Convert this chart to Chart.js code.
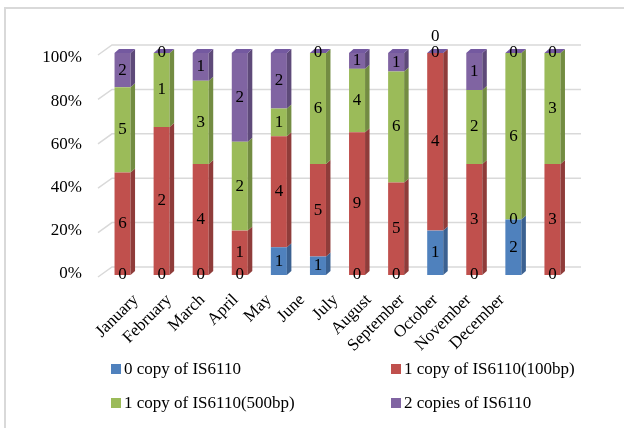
<!DOCTYPE html>
<html>
<head>
<meta charset="utf-8">
<script src="https://cdn.jsdelivr.net/npm/chart.js@4.4.1/dist/chart.umd.min.js"></script>
<style>
  html, body { margin: 0; padding: 0; background: #fff; }
  #wrap { position: relative; width: 624px; height: 428px; overflow: hidden; }
  #frame { position: absolute; left: 4px; top: 7px; width: 700px; height: 600px;
           border-left: 2px solid #d9d9d9; border-top: 2px solid #d9d9d9; }
  canvas { position: absolute; left: 0; top: 0; }
  .lg { position: absolute; height: 20px; display: flex; align-items: center; white-space: nowrap;
        font: 17px "Liberation Serif", "Times New Roman", serif; color: #000; }
  .lg i { display: inline-block; width: 10px; height: 10px; margin-right: 3px; }
</style>
</head>
<body>
<div id="wrap">
  <div id="frame"></div>
  <canvas id="c" width="624" height="428"></canvas>
  <div id="legend"></div>
</div>
<script>
// Monthly counts of isolates by IS6110 copy number
const months = ['January', 'February', 'March', 'April', 'May', 'June',
                'July', 'August', 'September', 'October', 'November', 'December'];
const seriesNames = ['0 copy of IS6110', '1 copy of IS6110(100bp)',
                     '1 copy of IS6110(500bp)', '2 copies of IS6110'];
const zeroCopy   = [0, 0, 0, 0, 1, 1, 0, 0, 1, 0, 2, 0];
const oneCopy100 = [6, 2, 4, 1, 4, 5, 9, 5, 4, 3, 0, 3];
const oneCopy500 = [5, 1, 3, 2, 1, 6, 4, 6, 0, 2, 6, 3];
const twoCopies  = [2, 0, 1, 2, 2, 0, 1, 1, 0, 1, 0, 0];
const percentTicks = [0, 20, 40, 60, 80, 100];

const FONT = '"Liberation Serif", "Times New Roman", serif';
const fronts = ['#4F81BD', '#C0504D', '#9BBB59', '#8064A2'];
const sides  = ['#3B6191', '#8F3C3A', '#738C42', '#5E4A79'];
const topFace = '#7459A0';
const DX = 4.5, DY = 4;

const seriesCounts = [zeroCopy, oneCopy100, oneCopy500, twoCopies];
const totals = months.map((_, i) => seriesCounts.reduce((s, arr) => s + arr[i], 0));
const toPercent = arr => arr.map((v, i) => v / totals[i] * 100);

// back-wall gridlines with a short receding edge on the left
const wallGrid = {
  id: 'wallGrid',
  beforeDatasetsDraw(chart) {
    const { ctx, chartArea: a } = chart;
    const y = chart.scales.y;
    ctx.save();
    ctx.strokeStyle = '#D9D9D9';
    ctx.lineWidth = 1.5;
    percentTicks.forEach(v => {
      const py = y.getPixelForValue(v);
      ctx.beginPath();
      ctx.moveTo(a.left - 5, py + 2);
      ctx.lineTo(a.left + 9, py - 8);
      ctx.lineTo(a.right + 9, py - 8);
      ctx.stroke();
    });
    ctx.restore();
  }
};

// side and top faces for the column look, then the count labels
const columnFaces = {
  id: 'columnFaces',
  afterDatasetsDraw(chart) {
    const ctx = chart.ctx;
    const n = chart.data.datasets.length;
    ctx.save();
    chart.data.datasets.forEach((ds, d) => {
      chart.getDatasetMeta(d).data.forEach(el => {
        const right = el.x + el.width / 2, left = el.x - el.width / 2;
        const top = Math.min(el.y, el.base), bottom = Math.max(el.y, el.base);
        ctx.fillStyle = ds.sideColor;
        ctx.beginPath();
        ctx.moveTo(right, top);
        ctx.lineTo(right + DX, top - DY);
        ctx.lineTo(right + DX, bottom - DY);
        ctx.lineTo(right, bottom);
        ctx.closePath();
        ctx.fill();
        if (d === n - 1) {
          ctx.fillStyle = topFace;
          ctx.beginPath();
          ctx.moveTo(left, top);
          ctx.lineTo(left + DX, top - DY);
          ctx.lineTo(right + DX, top - DY);
          ctx.lineTo(right, top);
          ctx.closePath();
          ctx.fill();
        }
      });
    });
    ctx.font = '17px ' + FONT;
    ctx.fillStyle = '#000';
    ctx.textAlign = 'center';
    ctx.textBaseline = 'middle';
    months.forEach((_, i) => {
      const placed = [];
      chart.data.datasets.forEach((ds, d) => {
        const el = chart.getDatasetMeta(d).data[i];
        let cy = (el.y + el.base) / 2;
        while (placed.some(p => Math.abs(p - cy) < 14)) cy -= 16;
        placed.push(cy);
        ctx.fillText(String(ds.counts[i]), el.x, cy);
      });
    });
    ctx.restore();
  }
};

new Chart(document.getElementById('c'), {
  type: 'bar',
  data: {
    labels: months,
    datasets: seriesCounts.map((arr, k) => ({
      label: seriesNames[k],
      data: toPercent(arr),
      counts: arr,
      backgroundColor: fronts[k],
      sideColor: sides[k],
      borderWidth: 0,
      barPercentage: 0.82,
      categoryPercentage: 0.5
    }))
  },
  options: {
    responsive: false,
    animation: false,
    layout: { padding: { left: 0, top: 53, right: 52, bottom: 68 } },
    plugins: { legend: { display: false }, tooltip: { enabled: false } },
    scales: {
      x: { stacked: true, display: false },
      // month names run along the front edge of the floor, which is narrower than the bar row
      xFloor: {
        type: 'linear',
        position: 'bottom',
        min: -0.4, max: 12.52,
        afterBuildTicks(s) { s.ticks = months.map((_, i) => ({ value: i })); },
        grid: { display: false, drawTicks: false },
        border: { display: false },
        ticks: { autoSkip: false, minRotation: 45, maxRotation: 45, padding: 15,
                 color: '#000', font: { family: FONT, size: 17 },
                 callback: v => months[v] },
        afterFit(s) { s.height = 85; }
      },
      y: { stacked: true, min: 0, max: 100, display: false },
      y2: {
        position: 'left',
        min: -0.7, max: 102.3,
        afterBuildTicks(s) { s.ticks = percentTicks.map(v => ({ value: v })); },
        grid: { display: false, drawTicks: false },
        border: { display: false },
        ticks: { padding: 21, color: '#000', font: { family: FONT, size: 17 },
                 callback: v => v + '%' },
        afterFit(s) { s.width = 103; }
      }
    }
  },
  plugins: [wallGrid, columnFaces]
});

// two-column legend under the plot
const legendSpots = [[111, 359], [391, 359], [111, 393], [391, 393]];
const legendBox = document.getElementById('legend');
seriesNames.forEach((name, k) => {
  const item = document.createElement('div');
  item.className = 'lg';
  item.style.left = legendSpots[k][0] + 'px';
  item.style.top = legendSpots[k][1] + 'px';
  const sw = document.createElement('i');
  sw.style.background = fronts[k];
  item.appendChild(sw);
  item.appendChild(document.createTextNode(name));
  legendBox.appendChild(item);
});
</script>
</body>
</html>
